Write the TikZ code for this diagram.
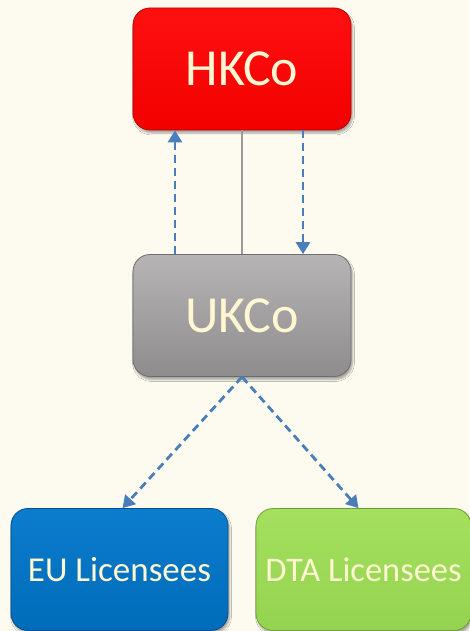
\documentclass[tikz,border=0pt]{standalone}
\usepackage{fontspec}
\setmainfont{Carlito}
\usetikzlibrary{arrows.meta,shadows.blur}
\definecolor{bg}{HTML}{FDFBEF}
\definecolor{txt}{HTML}{FFF7D2}
\definecolor{arr}{HTML}{4A7EBB}
\definecolor{redT}{HTML}{FF1010}
\definecolor{redB}{HTML}{F20000}
\definecolor{redD}{HTML}{B80000}
\definecolor{grayT}{HTML}{B6B4B4}
\definecolor{grayB}{HTML}{8E8C8C}
\definecolor{grayD}{HTML}{6E6C6C}
\definecolor{blueT}{HTML}{0C7CCC}
\definecolor{blueB}{HTML}{006CBA}
\definecolor{blueD}{HTML}{00508E}
\definecolor{greenT}{HTML}{A4E05E}
\definecolor{greenB}{HTML}{94D350}
\definecolor{greenD}{HTML}{6FA235}
\definecolor{lineG}{HTML}{9C9A9A}
\tikzset{
  box/.style={rounded corners=17pt, minimum width=218pt, minimum height=122pt,
    inner sep=0pt, text=txt, line width=0.8pt,
    blur shadow={shadow xshift=1.5pt, shadow yshift=-3pt, shadow blur steps=6, shadow opacity=35}},
  redbox/.style={box, draw=redD, top color=redT, bottom color=redB, font=\fontsize{52}{56}\selectfont},
  graybox/.style={box, draw=grayD, top color=grayT, bottom color=grayB, font=\fontsize{52}{56}\selectfont},
  bluebox/.style={box, draw=blueD, top color=blueT, bottom color=blueB, font=\fontsize{35}{40}\selectfont},
  greenbox/.style={box, draw=greenD, top color=greenT, bottom color=greenB, font=\fontsize{34.5}{40}\selectfont},
  darr/.style={draw=arr, line width=2.8pt, dash pattern=on 8pt off 5pt,
    -{Triangle[width=14pt,length=12pt]}},
  sline/.style={draw=lineG, line width=1.8pt}
}
\begin{document}
\begin{tikzpicture}[x=1pt,y=-1pt]
\fill[bg] (0,0) rectangle (469,631);
\useasboundingbox (0,0) rectangle (469,631);
\node[redbox] (h) at (242,69) {HKCo};
\node[graybox] (u) at (242,315.5) {UKCo};
\node[bluebox, minimum width=217pt] (e) at (119.5,569.5) {EU Licensees};
\node[greenbox, minimum width=215pt] (d) at (363.5,569.5) {DTA Licensees};
\draw[sline] (u.north) -- (h.south);
\draw[darr] ([xshift=-67pt]u.north) -- ([xshift=-67pt]h.south);
\draw[darr] ([xshift=61pt]h.south) -- ([xshift=61pt]u.north);
\draw[darr] (u.south) -- ([xshift=3pt]e.north);
\draw[darr] (u.south) -- ([xshift=-5pt]d.north);
\end{tikzpicture}
\end{document}
